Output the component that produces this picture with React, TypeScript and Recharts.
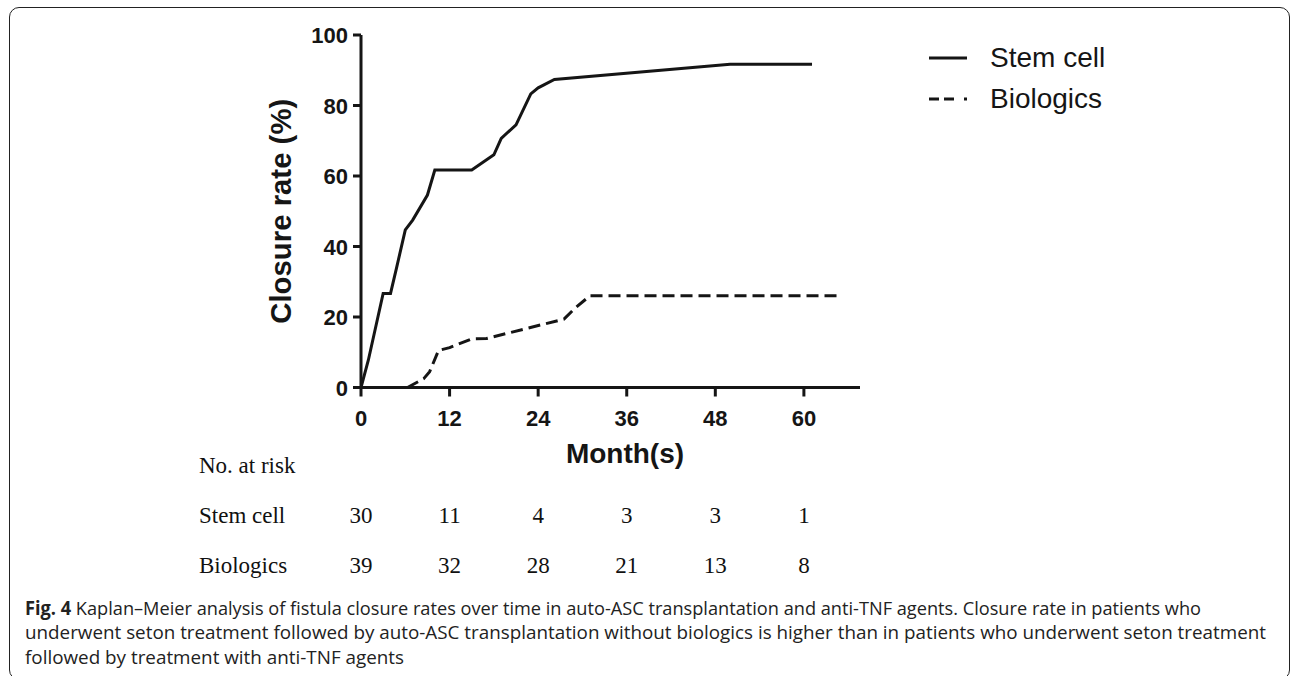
import React from 'react'
import { LineChart, Line, XAxis, YAxis, Legend } from 'recharts'

// Kaplan-Meier closure curves (months, closure rate %)
const stemMonths = [0, 1, 3, 4, 4.8, 6, 7, 9, 10, 15, 18, 19, 21, 23, 24, 26.2, 50, 61.1]
const stemRates = [0, 7.8, 26.7, 26.7, 33.8, 44.7, 47.5, 54.6, 61.7, 61.7, 66, 70.7, 74.5, 83.3, 85, 87.4, 91.7, 91.7]

const bioMonths = [6.3, 8.5, 9.3, 10.5, 12, 15, 17, 27.5, 29, 31, 65.2]
const bioRates = [0, 2.5, 4.5, 10.5, 11.3, 13.8, 13.9, 19.4, 22.5, 26, 26]

// x ticks and the number-at-risk table under them
const monthTicks = [0, 12, 24, 36, 48, 60]
const rateTicks = [0, 20, 40, 60, 80, 100]
const stemAtRisk = [30, 11, 4, 3, 3, 1]
const bioAtRisk = [39, 32, 28, 21, 13, 8]

const stemData = stemMonths.map((m, i) => ({ month: m, rate: stemRates[i] }))
const bioData = bioMonths.map((m, i) => ({ month: m, rate: bioRates[i] }))

const INK = '#151515'
const SANS = '"Liberation Sans", Arial, sans-serif'
const SERIF = '"Liberation Serif", "Times New Roman", serif'

const MonthTick = ({ x, y, payload }: any) => {
  const i = monthTicks.indexOf(payload.value)
  const serif = { fontFamily: SERIF, fontSize: 23, fill: '#111' }
  return (
    <g>
      <text x={x} y={y + 29.5} textAnchor="middle" fontFamily={SANS} fontWeight="bold" fontSize={22} fill={INK}>
        {payload.value}
      </text>
      <text x={x} y={y + 126.5} textAnchor="middle" {...serif}>{stemAtRisk[i]}</text>
      <text x={x} y={y + 176.5} textAnchor="middle" {...serif}>{bioAtRisk[i]}</text>
      {i === 0 && (
        <>
          <text x={x - 162} y={y + 76.5} {...serif}>No. at risk</text>
          <text x={x - 162} y={y + 126.5} {...serif}>Stem cell</text>
          <text x={x - 162} y={y + 176.5} {...serif}>Biologics</text>
        </>
      )}
    </g>
  )
}

const RateTick = ({ x, y, payload }: any) => (
  <text x={x} y={y} dy={8} textAnchor="end" fontFamily={SANS} fontWeight="bold" fontSize={22} fill={INK}>
    {payload.value}
  </text>
)

const YLabel = ({ viewBox }: any) => {
  const cx = 280
  const cy = viewBox.y + viewBox.height / 2
  return (
    <text x={cx} y={cy} transform={`rotate(-90 ${cx} ${cy})`} textAnchor="middle" dominantBaseline="central"
      fontFamily={SANS} fontWeight="bold" fontSize={30} fill={INK} textLength={225} lengthAdjust="spacingAndGlyphs">
      Closure rate (%)
    </text>
  )
}

const XLabel = ({ viewBox }: any) => (
  <text x={625} y={viewBox.y + 75} textAnchor="middle" fontFamily={SANS} fontWeight="bold" fontSize={28} fill={INK}>
    Month(s)
  </text>
)

const KmLegend = () => (
  <svg width={240} height={100}>
    <line x1={9} y1={28} x2={47} y2={28} stroke={INK} strokeWidth={3} />
    <text x={70} y={37} fontFamily={SANS} fontSize={28} fill={INK}>Stem cell</text>
    <line x1={9} y1={69} x2={47} y2={69} stroke={INK} strokeWidth={3} strokeDasharray="10 5 10 10 3" />
    <text x={70} y={78} fontFamily={SANS} fontSize={28} fill={INK}>Biologics</text>
  </svg>
)

const captionLines = [
  'Kaplan–Meier analysis of fistula closure rates over time in auto-ASC transplantation and anti-TNF agents. Closure rate in patients who',
  'underwent seton treatment followed by auto-ASC transplantation without biologics is higher than in patients who underwent seton treatment',
  'followed by treatment with anti-TNF agents',
]

export default function App() {
  return (
    <div style={{ position: 'relative', width: 1292, height: 676, background: '#fff' }}>
      <style>{'html,body{margin:0;padding:0;overflow:hidden;background:#fff}'}</style>
      <div style={{
        position: 'absolute', left: 9, top: 7, width: 1281, height: 673, boxSizing: 'border-box',
        border: '1.5px solid #222', borderRadius: 10,
      }} />
      <div style={{ position: 'absolute', left: 0, top: 0 }}>
        <LineChart width={1292} height={590} margin={{ top: 35, right: 432, bottom: 112.5, left: 0 }}>
          <XAxis
            type="number"
            dataKey="month"
            domain={[0, 67.6]}
            ticks={monthTicks}
            allowDataOverflow
            stroke={INK}
            strokeWidth={3}
            tickSize={9}
            tickMargin={0}
            tick={<MonthTick />}
            height={90}
            label={<XLabel />}
          />
          <YAxis
            type="number"
            dataKey="rate"
            domain={[0, 100]}
            ticks={rateTicks}
            stroke={INK}
            strokeWidth={3}
            tickSize={8}
            tickMargin={5}
            tick={<RateTick />}
            width={361}
            label={<YLabel />}
          />
          <Legend
            content={<KmLegend />}
            layout="horizontal"
            verticalAlign="middle"
            align="center"
            wrapperStyle={{ position: 'absolute', left: 920, top: 30, width: 240 }}
          />
          <Line data={stemData} dataKey="rate" name="Stem cell" type="linear" stroke={INK} strokeWidth={3}
            dot={false} activeDot={false} isAnimationActive={false} />
          <Line data={bioData} dataKey="rate" name="Biologics" type="linear" stroke={INK} strokeWidth={3}
            strokeDasharray="12 6" dot={false} activeDot={false} isAnimationActive={false} />
        </LineChart>
      </div>
      <svg style={{ position: 'absolute', left: 0, top: 590 }} width={1292} height={86}>
        <text x={25} y={25} fontFamily='"Open Sans", sans-serif' fontSize={19} fill="#222" textLength={1176} lengthAdjust="spacingAndGlyphs">
          <tspan fontWeight="bold">Fig. 4</tspan> {captionLines[0]}
        </text>
        <text x={25} y={49} fontFamily='"Open Sans", sans-serif' fontSize={19} fill="#222" textLength={1241} lengthAdjust="spacingAndGlyphs">
          {captionLines[1]}
        </text>
        <text x={25} y={74} fontFamily='"Open Sans", sans-serif' fontSize={19} fill="#222" textLength={379} lengthAdjust="spacingAndGlyphs">
          {captionLines[2]}
        </text>
      </svg>
    </div>
  )
}
